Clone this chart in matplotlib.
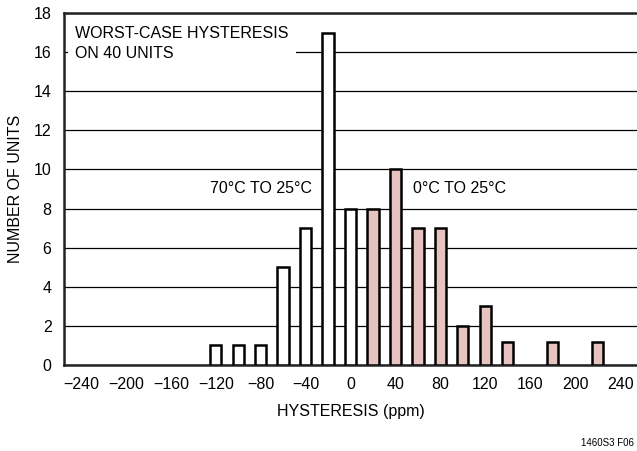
"""
Гистограмма гистерезиса на 40 образцах
"""
import matplotlib.pyplot as plt

# данные
hot_x = [-120, -100, -80, -60, -40, -20, 0]
hot_counts = [1, 1, 1, 5, 7, 17, 8]
cold_x = [20, 40, 60, 80, 100, 120, 140, 180, 220]
cold_counts = [8, 10, 7, 7, 2, 3, 1.2, 1.2, 1.2]
x_ticks = [-240, -200, -160, -120, -80, -40, 0, 40, 80, 120, 160, 200, 240]
y_ticks = [0, 2, 4, 6, 8, 10, 12, 14, 16, 18]

plt.rcParams['font.family'] = ['Liberation Sans', 'DejaVu Sans']


def hysteresis_chart() -> None:
	fig = plt.figure(figsize=(6.37, 4.51), dpi=100)
	ax = fig.add_axes([0.1005, 0.1907, 0.8995, 0.7805])

	ax.bar(hot_x, hot_counts, width=10, color='white', edgecolor='black',
		linewidth=1.8, zorder=3)
	ax.bar(cold_x, cold_counts, width=10, color='#e6c3be', edgecolor='black',
		linewidth=1.8, zorder=3)

	ax.set_xlim(-255, 255)
	ax.set_ylim(0, 18)
	ax.set_xticks(x_ticks)
	ax.set_xticklabels([str(v).replace('-', '\u2212') for v in x_ticks])
	ax.set_yticks(y_ticks)
	ax.tick_params(length=0, labelsize=11.5)
	ax.tick_params(axis='x', pad=9)
	ax.tick_params(axis='y', pad=9)

	ax.yaxis.grid(True, color='black', linewidth=0.9, zorder=1)
	ax.set_axisbelow(True)
	for side in ['left', 'bottom', 'top']:
		ax.spines[side].set_linewidth(1.8)
		ax.spines[side].set_color('#222222')
	ax.spines['right'].set_visible(False)

	ax.set_xlabel('HYSTERESIS (ppm)', fontsize=11.5, labelpad=8)
	ax.set_ylabel('NUMBER OF UNITS', fontsize=11.5, labelpad=8)

	ax.text(-245, 17.35, 'WORST-CASE HYSTERESIS\nON 40 UNITS', fontsize=11.5,
		ha='left', va='top', linespacing=1.45, zorder=4,
		bbox=dict(facecolor='white', edgecolor='none', pad=5))
	ax.text(-34, 9, '70\u00b0C TO 25\u00b0C', fontsize=11.5, ha='right',
		va='center', zorder=4)
	ax.text(56, 9, '0\u00b0C TO 25\u00b0C', fontsize=11.5, ha='left',
		va='center', zorder=4)

	fig.text(0.995, 0.018, '1460S3 F06', fontsize=7, ha='right', va='center')

	fig.savefig('out.png', dpi=100)


if __name__ == "__main__":
	hysteresis_chart()
